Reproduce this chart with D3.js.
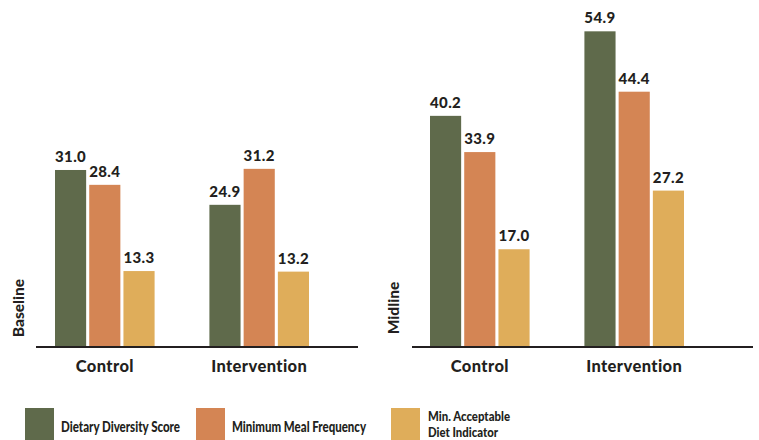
<!DOCTYPE html>
<html>
<head>
<meta charset="utf-8">
<script src="https://cdn.jsdelivr.net/npm/d3@7"></script>
<style>
  html, body { margin: 0; padding: 0; background: #fff; }
  svg text { font-family: "Lato", "DejaVu Sans", sans-serif; font-weight: 900; fill: #231f20; }
</style>
</head>
<body>
<svg id="chart" width="759" height="440"></svg>
<script>
// Feeding indicators (%), by group, at two survey rounds
const groups = ["Control", "Intervention"];
const indicators = ["Dietary Diversity Score", "Minimum Meal Frequency", "Min. Acceptable Diet Indicator"];
const colors = ["#5f6a4b", "#d48554", "#dfad5a"];
const baselineValues = [[31.0, 28.4, 13.3], [24.9, 31.2, 13.2]];
const midlineValues = [[40.2, 33.9, 17.0], [54.9, 44.4, 27.2]];
const panels = ["Baseline", "Midline"];

const svg = d3.select("#chart");
const axisY = 347;

function drawPanel(title, values, opts) {
  const g = svg.append("g");
  const y = d3.scaleLinear().domain([0, opts.yMax]).range([axisY, axisY - opts.yMax * opts.pxPerUnit]);
  const x0 = d3.scaleBand().domain(groups).range(opts.groupRange).paddingInner(0.355);
  const x1 = d3.scaleBand().domain(d3.range(indicators.length)).range([0, x0.bandwidth()]).paddingInner(0.09);

  const grp = g.selectAll("g.grp").data(groups).join("g")
    .attr("transform", d => `translate(${x0(d)},0)`);

  grp.selectAll("rect").data((d, i) => values[i]).join("rect")
    .attr("x", (v, j) => x1(j))
    .attr("width", x1.bandwidth())
    .attr("y", v => y(v))
    .attr("height", v => axisY - y(v))
    .attr("fill", (v, j) => colors[j]);

  grp.selectAll("text.val").data((d, i) => values[i]).join("text")
    .attr("class", "val")
    .attr("x", (v, j) => x1(j) + x1.bandwidth() / 2)
    .attr("y", v => y(v) - 8)
    .attr("text-anchor", "middle")
    .style("font-size", "15px")
    .style("letter-spacing", "0.4px")
    .text(v => v.toFixed(1));

  // baseline axis
  g.append("line")
    .attr("x1", opts.axisRange[0]).attr("x2", opts.axisRange[1])
    .attr("y1", axisY).attr("y2", axisY)
    .attr("stroke", "#231f20").attr("stroke-width", 2);

  // category labels
  g.selectAll("text.cat").data(groups).join("text")
    .attr("class", "cat")
    .attr("x", d => x0(d) + x0.bandwidth() / 2)
    .attr("y", 372)
    .attr("text-anchor", "middle")
    .style("font-size", "16.5px")
    .style("letter-spacing", "0.4px")
    .text(d => d);

  // panel title, rotated
  g.append("text")
    .attr("transform", `translate(${opts.titleX},308) rotate(-90)`)
    .attr("text-anchor", "middle")
    .style("font-size", "15.5px")
    .text(title);
}

drawPanel(panels[0], baselineValues, {
  yMax: 60, pxPerUnit: 5.71, groupRange: [55, 309], axisRange: [36, 358], titleX: 24
});
drawPanel(panels[1], midlineValues, {
  yMax: 60, pxPerUnit: 5.75, groupRange: [430, 684], axisRange: [412, 753], titleX: 399
});

// legend
const legendX = [25, 196, 391];
const leg = svg.append("g");
indicators.forEach((name, i) => {
  leg.append("rect")
    .attr("x", legendX[i]).attr("y", 408)
    .attr("width", 29).attr("height", 32)
    .attr("fill", colors[i]);
});
function legendText(x, y, txt, len, size) {
  return leg.append("text").attr("x", x).attr("y", y)
    .style("font-size", size + "px")
    .attr("textLength", len).attr("lengthAdjust", "spacingAndGlyphs")
    .text(txt);
}
legendText(61, 432, indicators[0], 119, 15);
legendText(232, 432, indicators[1], 134, 15);
legendText(428, 421, "Min. Acceptable", 82, 13);
legendText(428, 437, "Diet Indicator", 70, 13);
</script>
</body>
</html>
